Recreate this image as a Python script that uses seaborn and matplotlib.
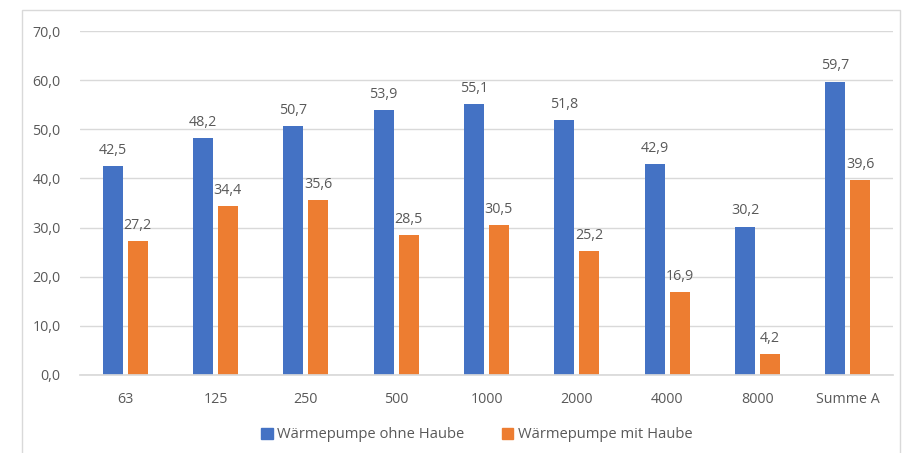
import matplotlib
matplotlib.use("Agg")
import matplotlib.pyplot as plt
from matplotlib.patches import Rectangle
from matplotlib.ticker import FuncFormatter
import seaborn as sns
import pandas as pd

# Data
categories = ["63", "125", "250", "500", "1000", "2000", "4000", "8000", "Summe A"]
ohne_haube = [42.5, 48.2, 50.7, 53.9, 55.1, 51.8, 42.9, 30.2, 59.7]
mit_haube = [27.2, 34.4, 35.6, 28.5, 30.5, 25.2, 16.9, 4.2, 39.6]
series_names = ["Wärmepumpe ohne Haube", "Wärmepumpe mit Haube"]
colors = ["#4472C4", "#ED7D31"]

df = pd.DataFrame({
    "Frequenz": categories * 2,
    "Wert": ohne_haube + mit_haube,
    "Serie": [series_names[0]] * len(categories) + [series_names[1]] * len(categories),
})

sns.set_theme(style="white")
plt.rcParams['font.family'] = ['Open Sans', 'DejaVu Sans']
text_color = "#595959"
grid_color = "#D9D9D9"

fig = plt.figure(figsize=(9.1, 4.53), dpi=100)
ax = fig.add_axes([80 / 910, 1 - 375 / 453, (893 - 80) / 910, (375 - 31) / 453])

sns.barplot(data=df, x="Frequenz", y="Wert", hue="Serie", palette=colors,
            width=0.55, gap=0.2, saturation=1, linewidth=0, ax=ax, legend=False)

# value labels
for container in ax.containers:
    ax.bar_label(container, labels=[f"{b.get_height():.1f}".replace(".", ",") for b in container],
                 padding=6, fontsize=10.3, color=text_color)

ax.set_ylim(0, 70)
ax.set_yticks(range(0, 71, 10))
ax.yaxis.set_major_formatter(FuncFormatter(lambda v, p: f"{v:.1f}".replace(".", ",")))
ax.set_xlim(-0.5, len(categories) - 0.5)
ax.grid(axis="y", color=grid_color, linewidth=1)
ax.set_axisbelow(True)
for s in ["top", "right", "left"]:
    ax.spines[s].set_visible(False)
ax.spines["bottom"].set_color(grid_color)
ax.tick_params(axis="both", length=0, labelsize=10.3, colors=text_color)
ax.tick_params(axis="x", pad=12)
ax.tick_params(axis="y", pad=14)
ax.set_xlabel("")
ax.set_ylabel("")

# legend
handles = [Rectangle((0, 0), 1, 1, color=c) for c in colors]
fig.legend(handles, series_names, loc="center", ncol=2, frameon=False,
           bbox_to_anchor=(477 / 910, 1 - 435 / 453), fontsize=10.6,
           labelcolor=text_color, handlelength=0.75, handleheight=0.75,
           handletextpad=0.3, columnspacing=2.6)

# outer chart frame
fig.patches.append(Rectangle((22 / 910, -0.05), (900 - 22) / 910, 1.05 - 10 / 453,
                             transform=fig.transFigure, fill=False,
                             edgecolor="#D9D9D9", linewidth=1))

fig.savefig("out.png", dpi=100)
